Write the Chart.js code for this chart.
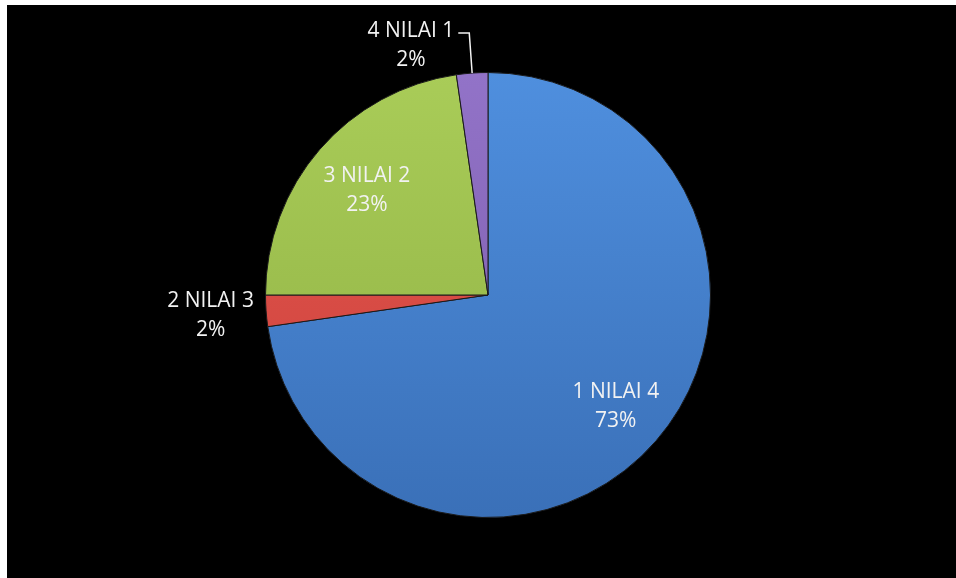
<!DOCTYPE html>
<html lang="en">
<head>
  <meta charset="UTF-8" />
  <title>Nilai Pie</title>
  <script src="https://cdn.jsdelivr.net/npm/chart.js"></script>
  <style>
    html, body { margin: 0; padding: 0; background: #fff; }
    #wrap { position: absolute; left: 7px; top: 5px; width: 949px; height: 573px; background: #000; }
  </style>
</head>
<body>
  <div id="wrap"><canvas id="pieChart"></canvas></div>

  <script>
    // data
    const labels = ['1 NILAI 4', '2 NILAI 3', '3 NILAI 2', '4 NILAI 1'];
    const counts = [32, 1, 10, 1];
    const percents = ['73%', '2%', '23%', '2%'];

    const colorsTop = ['#4f8fde', '#e8584f', '#a9cc58', '#9273c8'];
    const colorsBottom = ['#3a70b8', '#c8403b', '#8fb043', '#7a5aa8'];

    // where each label goes: inside (fraction of radius) or outside with leader
    const placement = [
      { r: 0.76 },
      { r: 1.25 },
      { r: 0.72 },
      { r: 1.18, leader: true }
    ];

    const labelPlugin = {
      id: 'sliceLabels',
      afterDatasetsDraw(chart) {
        const ctx = chart.ctx;
        const meta = chart.getDatasetMeta(0);
        ctx.save();
        ctx.font = '21px "Open Sans", "Liberation Sans", sans-serif';
        ctx.fillStyle = '#f2f2f2';
        ctx.textBaseline = 'middle';
        meta.data.forEach((arc, i) => {
          const p = arc.getProps(['x', 'y', 'startAngle', 'endAngle', 'outerRadius'], true);
          const mid = (p.startAngle + p.endAngle) / 2;
          const pl = placement[i];
          let x = p.x + Math.cos(mid) * p.outerRadius * pl.r;
          let y = p.y + Math.sin(mid) * p.outerRadius * pl.r;
          if (pl.leader) {
            const ex = p.x + Math.cos(mid) * p.outerRadius;
            const ey = p.y + Math.sin(mid) * p.outerRadius;
            ctx.strokeStyle = '#f2f2f2';
            ctx.lineWidth = 1.5;
            ctx.beginPath();
            ctx.moveTo(ex, ey);
            ctx.lineTo(x, y);
            ctx.lineTo(x - 11, y);
            ctx.stroke();
            const w = ctx.measureText(labels[i]).width;
            x = x - 15 - w / 2;
            y = y + 12;
          }
          ctx.textAlign = 'center';
          ctx.fillText(labels[i], x, y - 14);
          ctx.fillText(percents[i], x, y + 15);
        });
        ctx.restore();
      }
    };

    function shade(context) {
      const chart = context.chart;
      const area = chart.chartArea;
      if (!area) return colorsTop[context.dataIndex];
      const g = chart.ctx.createLinearGradient(0, area.top, 0, area.bottom);
      g.addColorStop(0, colorsTop[context.dataIndex]);
      g.addColorStop(1, colorsBottom[context.dataIndex]);
      return g;
    }

    new Chart(document.getElementById('pieChart'), {
      type: 'pie',
      data: {
        labels: labels,
        datasets: [{
          data: counts,
          backgroundColor: shade,
          borderColor: '#1a1a1a',
          borderWidth: 1
        }]
      },
      options: {
        responsive: true,
        maintainAspectRatio: false,
        animation: false,
        layout: { padding: { top: 67, bottom: 60, left: 13, right: 0 } },
        plugins: {
          legend: { display: false },
          tooltip: { enabled: false }
        }
      },
      plugins: [labelPlugin]
    });
  </script>
</body>
</html>
